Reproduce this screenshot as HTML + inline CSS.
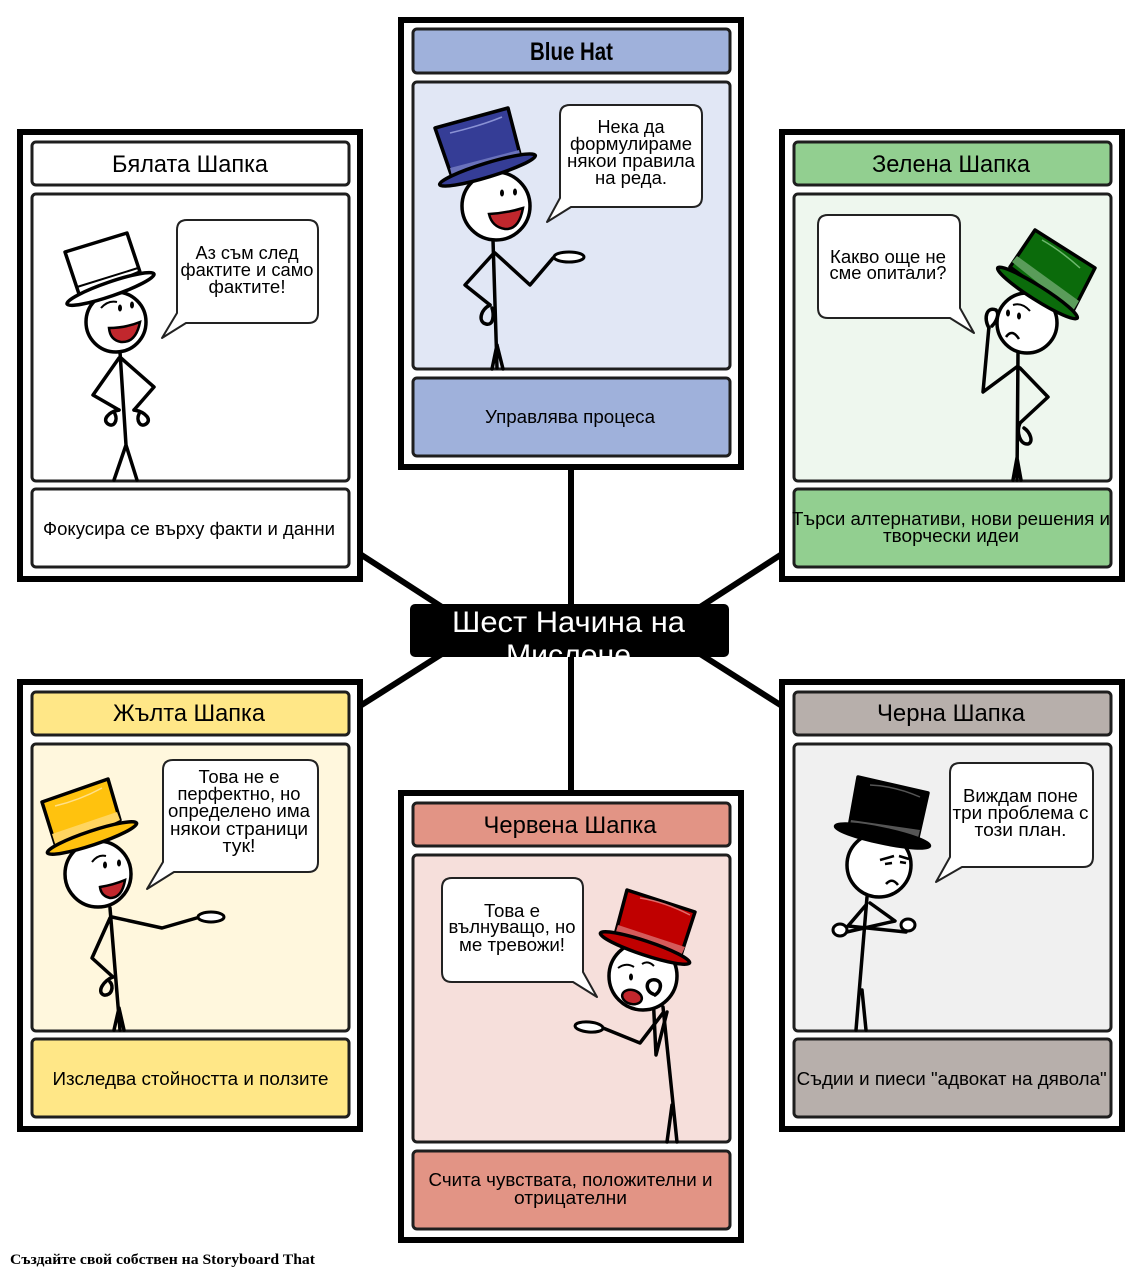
<!DOCTYPE html>
<html><head><meta charset="utf-8"><style>
html,body{margin:0;padding:0;background:#fff;}
svg{display:block;}
text{font-family:"Liberation Sans","DejaVu Sans",sans-serif;fill:#000;}
.s{stroke:#000;stroke-width:3.5;fill:none;stroke-linecap:round;stroke-linejoin:round;}
.h{fill:#fff;stroke:#000;stroke-width:3.5;}
.b{fill:#fff;stroke:#222;stroke-width:2;stroke-linejoin:round;}
.bt{font-size:18.5px;text-anchor:middle;}
.tt{font-size:24px;text-anchor:middle;}
.dt{font-size:18.5px;text-anchor:middle;}
.fr{stroke:#1e1e1e;stroke-width:3;}
</style></head><body>
<svg width="1142" height="1277" viewBox="0 0 1142 1277" xmlns="http://www.w3.org/2000/svg">
<rect width="1142" height="1277" fill="#fff"/>

<!-- connectors -->
<g stroke="#000" stroke-width="6">
<line x1="571" y1="468" x2="571" y2="610"/>
<line x1="571" y1="650" x2="571" y2="792"/>
<line x1="360" y1="554" x2="445" y2="609"/>
<line x1="360" y1="706" x2="445" y2="652"/>
<line x1="782" y1="554" x2="697" y2="609"/>
<line x1="782" y1="706" x2="697" y2="652"/>
</g>

<!-- panels -->
<g transform="translate(17,129)">
<rect x="3" y="3" width="340" height="447" fill="#fff" stroke="#000" stroke-width="6"/>
<rect class="fr" x="15" y="13" width="317" height="43" rx="4" fill="#fff"/>
<rect class="fr" x="15" y="65" width="317" height="287" rx="4" fill="#fff"/>
<rect class="fr" x="15" y="360" width="317" height="78" rx="4" fill="#fff"/>
</g>
<g transform="translate(398,17)">
<rect x="3" y="3" width="340" height="447" fill="#fff" stroke="#000" stroke-width="6"/>
<rect class="fr" x="15" y="12" width="317" height="44" rx="4" fill="#9fb1db"/>
<rect class="fr" x="15" y="65" width="317" height="287" rx="4" fill="#e1e7f5"/>
<rect class="fr" x="15" y="361" width="317" height="78" rx="4" fill="#9fb1db"/>
</g>
<g transform="translate(779,129)">
<rect x="3" y="3" width="340" height="447" fill="#fff" stroke="#000" stroke-width="6"/>
<rect class="fr" x="15" y="13" width="317" height="43" rx="4" fill="#92cf90"/>
<rect class="fr" x="15" y="65" width="317" height="287" rx="4" fill="#eef7ee"/>
<rect class="fr" x="15" y="360" width="317" height="78" rx="4" fill="#92cf90"/>
</g>
<g transform="translate(17,679)">
<rect x="3" y="3" width="340" height="447" fill="#fff" stroke="#000" stroke-width="6"/>
<rect class="fr" x="15" y="13" width="317" height="43" rx="4" fill="#ffe787"/>
<rect class="fr" x="15" y="65" width="317" height="287" rx="4" fill="#fff7dd"/>
<rect class="fr" x="15" y="360" width="317" height="78" rx="4" fill="#ffe787"/>
</g>
<g transform="translate(779,679)">
<rect x="3" y="3" width="340" height="447" fill="#fff" stroke="#000" stroke-width="6"/>
<rect class="fr" x="15" y="13" width="317" height="43" rx="4" fill="#b7afab"/>
<rect class="fr" x="15" y="65" width="317" height="287" rx="4" fill="#f0f0f0"/>
<rect class="fr" x="15" y="360" width="317" height="78" rx="4" fill="#b7afab"/>
</g>
<g transform="translate(398,790)">
<rect x="3" y="3" width="340" height="447" fill="#fff" stroke="#000" stroke-width="6"/>
<rect class="fr" x="15" y="13" width="317" height="43" rx="4" fill="#e29485"/>
<rect class="fr" x="15" y="65" width="317" height="287" rx="4" fill="#f6dfdb"/>
<rect class="fr" x="15" y="361" width="317" height="78" rx="4" fill="#e29485"/>
</g>

<!-- center title -->
<defs><clipPath id="cc"><rect x="410" y="604" width="319" height="53" rx="5"/></clipPath></defs>
<rect x="410" y="604" width="319" height="53" rx="5" fill="#000"/>
<g clip-path="url(#cc)">
<text x="568.5" y="632" font-size="30" text-anchor="middle" textLength="233" lengthAdjust="spacingAndGlyphs" style="fill:#fff">Шест Начина на</text>
<text x="568.5" y="665" font-size="30" text-anchor="middle" textLength="125" lengthAdjust="spacingAndGlyphs" style="fill:#fff">Мислене</text>
</g>

<!-- titles -->
<text class="tt" x="190" y="172" textLength="156" lengthAdjust="spacingAndGlyphs">Бялата Шапка</text>
<text x="571.5" y="60" font-size="25" font-weight="bold" text-anchor="middle" textLength="83" lengthAdjust="spacingAndGlyphs">Blue Hat</text>
<text class="tt" x="951" y="172" textLength="158" lengthAdjust="spacingAndGlyphs">Зелена Шапка</text>
<text class="tt" x="189" y="721" textLength="152" lengthAdjust="spacingAndGlyphs">Жълта Шапка</text>
<text class="tt" x="951" y="721" textLength="148" lengthAdjust="spacingAndGlyphs">Черна Шапка</text>
<text class="tt" x="570" y="833" textLength="173" lengthAdjust="spacingAndGlyphs">Червена Шапка</text>

<!-- descriptions -->
<text class="dt" x="189" y="535" textLength="292" lengthAdjust="spacingAndGlyphs">Фокусира се върху факти и данни</text>
<text class="dt" x="570" y="423" textLength="170" lengthAdjust="spacingAndGlyphs">Управлява процеса</text>
<text class="dt" x="951" y="525" textLength="318" lengthAdjust="spacingAndGlyphs">Търси алтернативи, нови решения и</text>
<text class="dt" x="951" y="542" textLength="136" lengthAdjust="spacingAndGlyphs">творчески идеи</text>
<text class="dt" x="190.5" y="1085" textLength="276" lengthAdjust="spacingAndGlyphs">Изследва стойността и ползите</text>
<text class="dt" x="951.7" y="1085" textLength="310" lengthAdjust="spacingAndGlyphs">Съдии и пиеси "адвокат на дявола"</text>
<text class="dt" x="570.5" y="1186" textLength="284" lengthAdjust="spacingAndGlyphs">Счита чувствата, положителни и</text>
<text class="dt" x="570.5" y="1204" textLength="113" lengthAdjust="spacingAndGlyphs">отрицателни</text>

<!-- bubbles -->
<path class="b" d="M187,220 H308 Q318,220 318,230 V313 Q318,323 308,323 H186 L162,338 L177,313 V230 Q177,220 187,220 Z"/>
<path class="b" d="M570,105 H692 Q702,105 702,115 V197 Q702,207 692,207 H571 L547,222 L560,198 V115 Q560,105 570,105 Z"/>
<path class="b" d="M828,215 H950 Q960,215 960,225 V308 L974,333 L950,318 H828 Q818,318 818,308 V225 Q818,215 828,215 Z"/>
<path class="b" d="M173,760 H308 Q318,760 318,770 V862 Q318,872 308,872 H174 L147,889 L163,862 V770 Q163,760 173,760 Z"/>
<path class="b" d="M960,763 H1083 Q1093,763 1093,773 V857 Q1093,867 1083,867 H962 L936,882 L950,857 V773 Q950,763 960,763 Z"/>
<path class="b" d="M452,878 H573 Q583,878 583,888 V972 L597,997 L573,982 H452 Q442,982 442,972 V888 Q442,878 452,878 Z"/>

<g lengthAdjust="spacingAndGlyphs">
<text class="bt" x="247" y="259" textLength="103" lengthAdjust="spacingAndGlyphs">Аз съм след</text>
<text class="bt" x="247" y="276" textLength="133" lengthAdjust="spacingAndGlyphs">фактите и само</text>
<text class="bt" x="247" y="293" textLength="77" lengthAdjust="spacingAndGlyphs">фактите!</text>

<text class="bt" x="631" y="133" textLength="67" lengthAdjust="spacingAndGlyphs">Нека да</text>
<text class="bt" x="631" y="150" textLength="122" lengthAdjust="spacingAndGlyphs">формулираме</text>
<text class="bt" x="631" y="167" textLength="128" lengthAdjust="spacingAndGlyphs">някои правила</text>
<text class="bt" x="631" y="184" textLength="72" lengthAdjust="spacingAndGlyphs">на реда.</text>

<text class="bt" x="888" y="263" textLength="116" lengthAdjust="spacingAndGlyphs">Какво още не</text>
<text class="bt" x="888" y="279" textLength="117" lengthAdjust="spacingAndGlyphs">сме опитали?</text>

<text class="bt" x="239" y="783" textLength="81" lengthAdjust="spacingAndGlyphs">Това не е</text>
<text class="bt" x="239" y="800" textLength="123" lengthAdjust="spacingAndGlyphs">перфектно, но</text>
<text class="bt" x="239" y="817" textLength="142" lengthAdjust="spacingAndGlyphs">определено има</text>
<text class="bt" x="239" y="835" textLength="138" lengthAdjust="spacingAndGlyphs">някои страници</text>
<text class="bt" x="239" y="852" textLength="33" lengthAdjust="spacingAndGlyphs">тук!</text>

<text class="bt" x="1020.5" y="802" textLength="115" lengthAdjust="spacingAndGlyphs">Виждам поне</text>
<text class="bt" x="1020.5" y="819" textLength="136" lengthAdjust="spacingAndGlyphs">три проблема с</text>
<text class="bt" x="1020.5" y="836" textLength="92" lengthAdjust="spacingAndGlyphs">този план.</text>

<text class="bt" x="512" y="917" textLength="56" lengthAdjust="spacingAndGlyphs">Това е</text>
<text class="bt" x="512" y="933" textLength="127" lengthAdjust="spacingAndGlyphs">вълнуващо, но</text>
<text class="bt" x="512" y="951" textLength="106" lengthAdjust="spacingAndGlyphs">ме тревожи!</text>
</g>

<!-- FIGURE: white hat -->
<g class="s">
<path d="M120 352 L126 445 L114 480 M126 445 L137 480"/>
<path d="M119 358 L93 395 L119 410 M121 358 L154 387 L134 410"/>
<path d="M119 410 C108 412 102 420 108 424 C114 428 118 420 115 414"/>
<path d="M134 410 C146 412 152 420 146 424 C140 428 136 420 139 414"/>
</g>
<circle class="h" cx="116" cy="322" r="30"/>
<ellipse cx="120" cy="308" rx="2" ry="3.5"/>
<ellipse cx="132" cy="305" rx="2" ry="3.5"/>
<path d="M109 328 Q125 328 140 322 Q136 343 121 342 Q110 340 109 328Z" fill="#c1272d" stroke="#000" stroke-width="2.5"/>
<path d="M101 308 Q108 300 117 302" stroke="#000" stroke-width="2" fill="none"/>
<polygon points="65,252 127,233 140,272 80,297" fill="#fff" stroke="#000" stroke-width="3.5" stroke-linejoin="round"/>
<path d="M77 287 L138 268" stroke="#000" stroke-width="2"/>
<ellipse cx="110.5" cy="289" rx="46" ry="7" transform="rotate(-19 110.5 289)" fill="#fff" stroke="#000" stroke-width="3.5"/>

<!-- FIGURE: blue hat -->
<g class="s">
<path d="M493 240 L497 368 M497 345 L492 369 M497 345 L503 369"/>
<path d="M494 253 L465 285 L490 305"/>
<path d="M490 305 C480 310 478 322 486 324 C494 326 494 314 492 308"/>
<path d="M495 253 L530 285 L553 258"/>
</g>
<ellipse cx="569" cy="257" rx="15" ry="5" fill="#fff" stroke="#000" stroke-width="3"/>
<circle class="h" cx="496" cy="206" r="34"/>
<ellipse cx="502" cy="193" rx="2" ry="3.5"/>
<ellipse cx="515" cy="192" rx="2" ry="3.5"/>
<path d="M489 214 Q507 213 523 208 Q519 230 505 229 Q492 227 489 214Z" fill="#c1272d" stroke="#000" stroke-width="2.5"/>
<polygon points="435,128 508,108 522,162 453,180" fill="#353d96" stroke="#000" stroke-width="3.5" stroke-linejoin="round"/>
<polygon points="450,168 519,150 522,162 453,180" fill="#6a72bb"/>
<path d="M450 133 Q480 126 502 117" stroke="#8a92d4" stroke-width="1.5" fill="none"/>
<ellipse cx="487.5" cy="170" rx="50" ry="7" transform="rotate(-17 487.5 170)" fill="#353d96" stroke="#000" stroke-width="3.5"/>

<!-- FIGURE: green hat -->
<g class="s">
<path d="M1018 353 L1017 480 M1017 458 L1013 480 M1017 458 L1021 480"/>
<path d="M1018 366 L983 392 L989 326"/>
<path d="M1020 368 L1048 397 L1020 423"/>
<path d="M1020 423 C1016 432 1020 445 1028 444 C1034 442 1030 432 1024 428"/>
</g>
<circle class="h" cx="1027" cy="323" r="30"/>
<path d="M989 328 C983 318 987 306 996 310 C1000 314 996 322 992 326" class="s" style="fill:#fff"/>
<ellipse cx="1008" cy="313" rx="2" ry="3.5"/>
<ellipse cx="1019" cy="316" rx="2" ry="3.5"/>
<path d="M1013 305 Q1022 302 1030 311" stroke="#000" stroke-width="2" fill="none"/>
<path d="M1006 337 Q1012 328 1019 339" stroke="#000" stroke-width="2.5" fill="none"/>
<polygon points="1010,267 1035,230 1095,268 1072,313" fill="#0b6b0b" stroke="#000" stroke-width="3.5" stroke-linejoin="round"/>
<polygon points="1012,262 1017,256 1079,301 1073,311" fill="#5a9c5a"/>
<path d="M1042 240 Q1060 250 1080 268" stroke="#6db86d" stroke-width="1.5" fill="none"/>
<ellipse cx="1037.5" cy="293" rx="47" ry="7" transform="rotate(32.3 1037.5 293)" fill="#0b6b0b" stroke="#000" stroke-width="3.5"/>

<!-- FIGURE: yellow hat -->
<g class="s">
<path d="M110 908 L120 1030 M119 1008 L114 1030 M119 1008 L124 1030"/>
<path d="M110 918 L92 958 L113 977"/>
<path d="M113 977 C104 980 96 992 104 995 C112 996 114 986 110 982"/>
<path d="M112 917 L162 928 L200 917"/>
</g>
<ellipse cx="211" cy="917" rx="13" ry="5" fill="#fff" stroke="#000" stroke-width="3"/>
<circle class="h" cx="98" cy="874" r="33"/>
<ellipse cx="105" cy="865" rx="2" ry="3.5"/>
<ellipse cx="119" cy="863" rx="2" ry="3.5"/>
<path d="M100 887 Q113 885 125 880 Q122 898 110 898 Q101 896 100 887Z" fill="#c1272d" stroke="#000" stroke-width="2.5"/>
<path d="M92 862 Q98 854 106 856" stroke="#000" stroke-width="2" fill="none"/>
<polygon points="42,802 108,779 120,820 57,850" fill="#ffc20e" stroke="#000" stroke-width="3.5" stroke-linejoin="round"/>
<polygon points="52,834 117,812 120,820 57,850" fill="#ffd560"/>
<path d="M55 806 Q80 800 102 788" stroke="#ffe08a" stroke-width="1.5" fill="none"/>
<ellipse cx="92" cy="838" rx="47" ry="7" transform="rotate(-18.4 92 838)" fill="#ffc20e" stroke="#000" stroke-width="3.5"/>

<!-- FIGURE: black hat -->
<g class="s">
<path d="M867 897 L856 1030 M862 990 L866 1030"/>
<path d="M866 905 L848 926 L906 932"/>
<path d="M870 903 L895 921 L838 934"/>
</g>
<ellipse cx="840" cy="930" rx="7" ry="6" fill="#fff" stroke="#000" stroke-width="3"/>
<ellipse cx="908" cy="925" rx="7" ry="6" fill="#fff" stroke="#000" stroke-width="3"/>
<circle class="h" cx="879" cy="865" r="32"/>
<path d="M880 860 L894 856 M899 856 L909 859" stroke="#000" stroke-width="2.5" fill="none"/>
<path d="M885 864 L892 863 M900 862 L906 863" stroke="#000" stroke-width="2.5" fill="none"/>
<path d="M886 884 Q892 877 898 885" stroke="#000" stroke-width="2.5" fill="none"/>
<polygon points="858,777 928,793 917,842 848,833" fill="#000" stroke="#000" stroke-width="3.5" stroke-linejoin="round"/>
<polygon points="851,820 920,830 917,842 848,833" fill="#555"/>
<path d="M870 785 Q895 786 920 797" stroke="#555" stroke-width="1.5" fill="none"/>
<ellipse cx="882.5" cy="836" rx="48" ry="7" transform="rotate(11.9 882.5 836)" fill="#000" stroke="#000" stroke-width="3.5"/>

<!-- FIGURE: red hat -->
<g class="s">
<path d="M663 1007 L677 1142 M672 1105 L667 1142"/>
<path d="M663 1013 L640 1043 L603 1028"/>
<path d="M667 1012 L656 1055 L653 994"/>
</g>
<ellipse cx="589" cy="1027" rx="14" ry="5" transform="rotate(5 589 1027)" fill="#fff" stroke="#000" stroke-width="3"/>
<circle class="h" cx="643" cy="976" r="34"/>
<ellipse cx="631" cy="977" rx="2" ry="3.5"/>
<path d="M618 968 Q626 962 634 967 M642 964 Q648 960 654 966" stroke="#000" stroke-width="2" fill="none"/>
<ellipse cx="632" cy="997" rx="10" ry="7" transform="rotate(15 632 997)" fill="#c1272d" stroke="#000" stroke-width="2.5"/>
<path d="M653 994 C644 990 646 978 656 980 C663 982 661 991 655 995" class="s" style="fill:#fff"/>
<polygon points="627,890 695,912 680,958 615,935" fill="#c00000" stroke="#000" stroke-width="3.5" stroke-linejoin="round"/>
<polygon points="618,925 685,947 680,958 615,935" fill="#d45a5a"/>
<path d="M640 898 Q665 902 690 915" stroke="#e06a6a" stroke-width="1.5" fill="none"/>
<ellipse cx="645" cy="948" rx="47" ry="7" transform="rotate(18.4 645 948)" fill="#c00000" stroke="#000" stroke-width="3.5"/>

<!-- footer -->
<text x="10" y="1264" font-size="15" font-weight="bold" textLength="305" lengthAdjust="spacingAndGlyphs" style="font-family:'Liberation Serif',serif">Създайте свой собствен на Storyboard That</text>
</svg>
</body></html>
